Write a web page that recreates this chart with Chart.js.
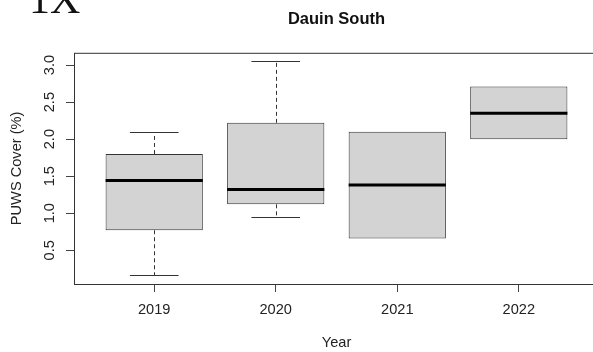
<!DOCTYPE html>
<html>
<head>
<meta charset="utf-8">
<script src="https://cdn.jsdelivr.net/npm/chart.js@4/dist/chart.umd.min.js"></script>
<style>
  html, body { margin: 0; padding: 0; background: #fff; overflow: hidden; width: 593px; height: 352px; }
  #wrap { position: relative; width: 600px; height: 352px; }
  #mark { position: absolute; left: 29px; top: -22.5px; font: 42px/42px "Liberation Serif", "Times New Roman", serif; color: #111; filter: blur(0.6px); white-space: nowrap; }
  canvas { position: absolute; left: 0; top: 0; }
</style>
</head>
<body>
<div id="wrap">
  <canvas id="chart" width="600" height="352"></canvas>
  <div id="mark">1X</div>
</div>
<script>
// Yearly PUWS cover at Dauin South, summarised as box-and-whisker stats
const years = ['2019', '2020', '2021', '2022'];
const whiskerLow  = [0.16, 0.95, 0.66, 2.00];
const q1          = [0.77, 1.12, 0.66, 2.00];
const medians     = [1.44, 1.32, 1.38, 2.35];
const q3          = [1.80, 2.22, 2.10, 2.71];
const whiskerHigh = [2.10, 3.05, 2.10, 2.71];
const yTickValues = [0.5, 1.0, 1.5, 2.0, 2.5, 3.0];
const yTickLabels = ['0.5', '1.0', '1.5', '2.0', '2.5', '3.0'];

const FONT = '"Liberation Sans", Arial, Helvetica, sans-serif';
Chart.defaults.font.family = FONT;

// axis limits padded 4% beyond the data range on each side
const lo = Math.min(...whiskerLow), hi = Math.max(...whiskerHigh);
const yPad = (hi - lo) * 0.04;
const n = years.length;
const xMin = 0.5 - 0.04 * n, xMax = n + 0.5 + 0.04 * n;

const boxWidth = 0.8;    // in category units
const capWidth = 0.4;
const lineColor = '#333';

const boxPlotPlugin = {
  id: 'boxPlot',
  beforeDatasetsDraw(chart) {
    const { ctx, scales: { x, y } } = chart;
    ctx.save();
    ctx.strokeStyle = lineColor;
    ctx.lineWidth = 1;
    years.forEach((_, i) => {
      const cx = Math.round(x.getPixelForValue(i + 1)) + 0.5;
      const capL = x.getPixelForValue(i + 1 - capWidth / 2);
      const capR = x.getPixelForValue(i + 1 + capWidth / 2);
      // each whisker: from box edge out to the extreme, with a solid staple
      [[q3[i], whiskerHigh[i]], [q1[i], whiskerLow[i]]].forEach(([edge, end]) => {
        if (edge === end) return;
        const yEdge = y.getPixelForValue(edge);
        const yEnd = Math.round(y.getPixelForValue(end)) + 0.5;
        ctx.setLineDash([4, 3]);
        ctx.beginPath();
        ctx.moveTo(cx, yEdge); ctx.lineTo(cx, yEnd);
        ctx.stroke();
        ctx.setLineDash([]);
        ctx.beginPath();
        ctx.moveTo(capL, yEnd); ctx.lineTo(capR, yEnd);
        ctx.stroke();
      });
    });
    ctx.restore();
  },
  afterDatasetsDraw(chart) {
    const { ctx, scales: { x, y } } = chart;
    ctx.save();
    ctx.strokeStyle = '#000';
    ctx.lineWidth = 3;
    years.forEach((_, i) => {
      const l = x.getPixelForValue(i + 1 - boxWidth / 2);
      const r = x.getPixelForValue(i + 1 + boxWidth / 2);
      const ym = y.getPixelForValue(medians[i]);
      ctx.beginPath();
      ctx.moveTo(l, ym); ctx.lineTo(r, ym);
      ctx.stroke();
    });
    ctx.restore();
  },
  afterDraw(chart) {
    // plot frame
    const { ctx, chartArea: a } = chart;
    ctx.save();
    ctx.strokeStyle = lineColor;
    ctx.lineWidth = 1;
    ctx.strokeRect(a.left + 0.5, a.top + 0.5, a.right - a.left, a.bottom - a.top);
    ctx.restore();
  }
};

new Chart(document.getElementById('chart'), {
  type: 'bar',
  data: {
    datasets: [{
      label: 'PUWS Cover (%)',
      data: years.map((yr, i) => ({ x: i + 1, y: [q1[i], q3[i]] })),
      backgroundColor: '#d3d3d3',
      borderColor: lineColor,
      borderWidth: 1,
      borderSkipped: false,
      categoryPercentage: 1,
      barPercentage: boxWidth
    }]
  },
  options: {
    responsive: false,
    animation: false,
    devicePixelRatio: 1,
    layout: { padding: { top: 0, left: 0, right: 1, bottom: 0 } },
    plugins: {
      legend: { display: false },
      tooltip: { enabled: false },
      title: {
        display: true,
        fullSize: false,
        text: 'Dauin South',
        color: '#111',
        font: { family: FONT, size: 16.5, weight: 'bold' },
        padding: { top: 10, bottom: 23 }
      }
    },
    scales: {
      x: {
        type: 'linear',
        min: xMin,
        max: xMax,
        offset: false,
        afterBuildTicks: s => { s.ticks = years.map((_, i) => ({ value: i + 1 })); },
        afterFit: s => { s.height = 68; },
        ticks: {
          callback: (v, i) => years[i],
          color: '#222',
          font: { size: 14.6 },
          padding: 9,
          maxRotation: 0,
          autoSkip: false
        },
        grid: { offset: false, drawOnChartArea: false, drawTicks: true, tickLength: 8, color: '#444' },
        border: { display: false },
        title: {
          display: true,
          text: 'Year',
          color: '#222',
          font: { size: 14.6 },
          padding: { top: 0, bottom: 0 }
        }
      },
      y: {
        type: 'linear',
        min: lo - yPad,
        max: hi + yPad,
        afterBuildTicks: s => { s.ticks = yTickValues.map(v => ({ value: v })); },
        afterFit: s => { s.width = 74; },
        ticks: {
          callback: (v, i) => yTickLabels[i],
          color: '#222',
          font: { size: 14.6 },
          minRotation: 90,
          maxRotation: 90,
          crossAlign: 'center',
          padding: 6,
          autoSkip: false
        },
        grid: { drawOnChartArea: false, drawTicks: true, tickLength: 8, color: '#444' },
        border: { display: false },
        title: {
          display: true,
          text: 'PUWS Cover (%)',
          color: '#222',
          font: { size: 14.6 },
          padding: { top: 8, bottom: 0 }
        }
      }
    }
  },
  plugins: [boxPlotPlugin]
});
</script>
</body>
</html>
